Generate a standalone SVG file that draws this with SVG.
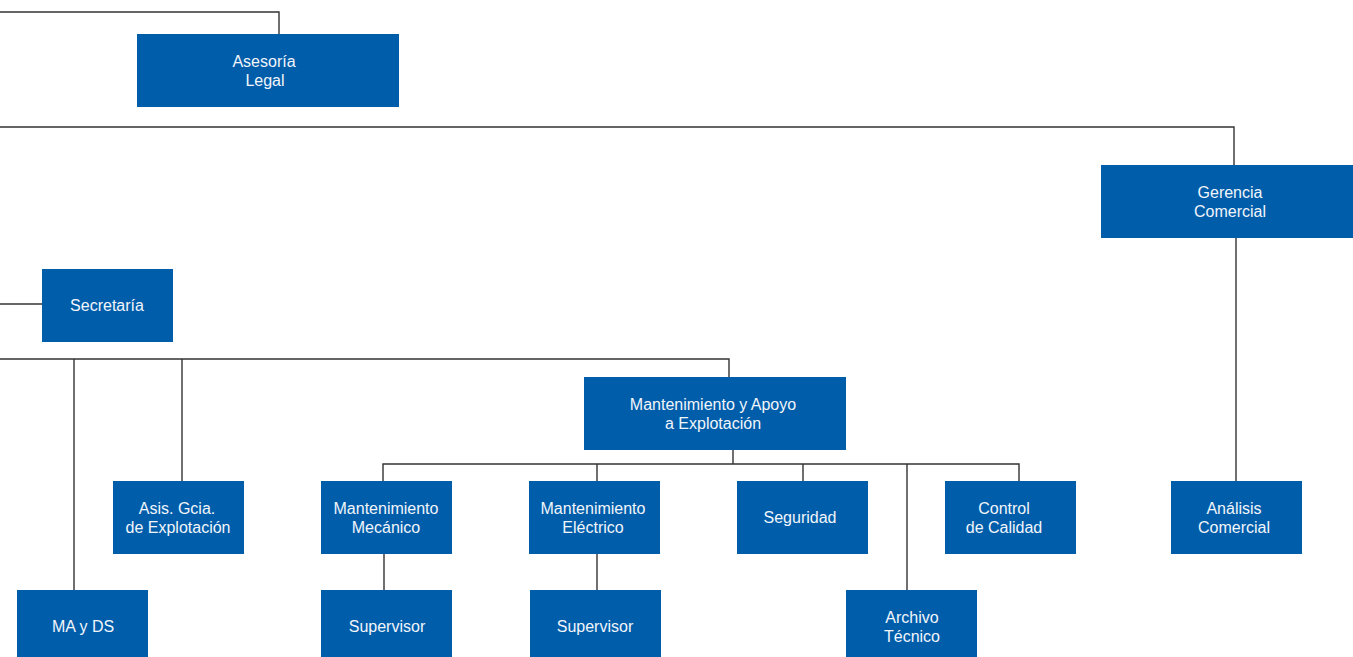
<svg xmlns="http://www.w3.org/2000/svg" width="1353" height="657" viewBox="0 0 1353 657">
<style>
.box{fill:#005DAA}
.t{font-family:"Liberation Sans",Arial,sans-serif;font-size:16px;fill:#F2F5FA;text-anchor:middle}
.c{fill:none;stroke:#333;stroke-width:1.4}
</style>
<rect width="1353" height="657" fill="#fff"/>
<g id="connectors" class="c">
<polyline points="0,12 279,12 279,34"/>
<polyline points="0,127 1234,127 1234,165"/>
<line x1="1236" y1="238" x2="1236" y2="481"/>
<line x1="0" y1="304" x2="42" y2="304"/>
<polyline points="0,359 729,359 729,377"/>
<line x1="74" y1="359" x2="74" y2="590"/>
<line x1="182" y1="359" x2="182" y2="481"/>
<line x1="733" y1="450" x2="733" y2="464"/>
<polyline points="383,481 383,464 1019,464 1019,481"/>
<line x1="597" y1="464" x2="597" y2="481"/>
<line x1="803" y1="464" x2="803" y2="481"/>
<line x1="907" y1="464" x2="907" y2="590"/>
<line x1="384" y1="554" x2="384" y2="590"/>
<line x1="597" y1="554" x2="597" y2="590"/>
</g>
<g id="asesoria"><rect class="box" x="137" y="34" width="262" height="73"/><text class="t" x="264" y="67">Asesoría</text><text class="t" x="265" y="86">Legal</text></g>
<g id="gerencia"><rect class="box" x="1101" y="165" width="262" height="73"/><text class="t" x="1230" y="198">Gerencia</text><text class="t" x="1230" y="217">Comercial</text></g>
<g id="secretaria"><rect class="box" x="42" y="269" width="131" height="73"/><text class="t" x="107" y="311">Secretaría</text></g>
<g id="mantapoyo"><rect class="box" x="584" y="377" width="262" height="73"/><text class="t" x="713" y="410">Mantenimiento y Apoyo</text><text class="t" x="713" y="429">a Explotación</text></g>
<g id="asis"><rect class="box" x="113" y="481" width="131" height="73"/><text class="t" x="177" y="514">Asis. Gcia.</text><text class="t" x="178" y="533">de Explotación</text></g>
<g id="mecanico"><rect class="box" x="321" y="481" width="131" height="73"/><text class="t" x="386" y="514">Mantenimiento</text><text class="t" x="386" y="533">Mecánico</text></g>
<g id="electrico"><rect class="box" x="529" y="481" width="131" height="73"/><text class="t" x="593" y="514">Mantenimiento</text><text class="t" x="593" y="533">Eléctrico</text></g>
<g id="seguridad"><rect class="box" x="737" y="481" width="131" height="73"/><text class="t" x="800" y="523">Seguridad</text></g>
<g id="control"><rect class="box" x="945" y="481" width="131" height="73"/><text class="t" x="1004" y="514">Control</text><text class="t" x="1004" y="533">de Calidad</text></g>
<g id="analisis"><rect class="box" x="1171" y="481" width="131" height="73"/><text class="t" x="1234" y="514">Análisis</text><text class="t" x="1234" y="533">Comercial</text></g>
<g id="mayds"><rect class="box" x="17" y="590" width="131" height="73"/><text class="t" x="83" y="632">MA y DS</text></g>
<g id="supervisor1"><rect class="box" x="321" y="590" width="131" height="73"/><text class="t" x="387" y="632">Supervisor</text></g>
<g id="supervisor2"><rect class="box" x="530" y="590" width="131" height="73"/><text class="t" x="595" y="632">Supervisor</text></g>
<g id="archivo"><rect class="box" x="846" y="590" width="131" height="73"/><text class="t" x="912" y="623">Archivo</text><text class="t" x="912" y="642">Técnico</text></g>
</svg>
